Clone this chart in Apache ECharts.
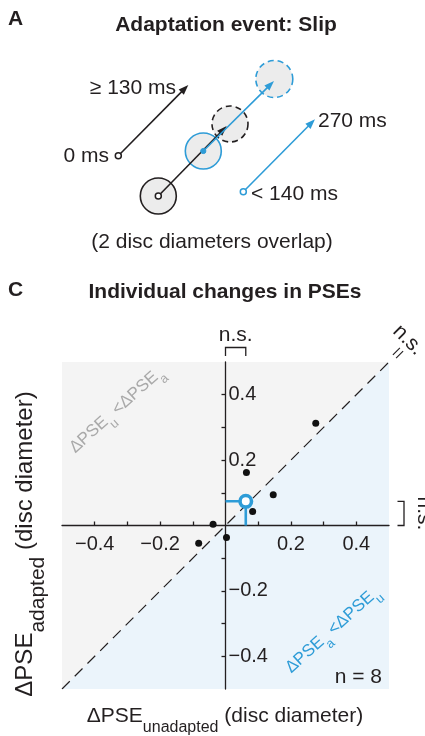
<!DOCTYPE html>
<html><head><meta charset="utf-8">
<script src="https://cdn.jsdelivr.net/npm/echarts@6/dist/echarts.min.js"></script>
<style>html,body{margin:0;padding:0;background:#fff}#c{width:425px;height:736px}</style>
</head><body><div id="c"></div><script>
// ---- data ----
const unadapted = [0.276, 0.064, 0.146, 0.083, -0.038, -0.082, 0.003];
const adapted   = [0.313, 0.162, 0.094, 0.043, 0.004, -0.054, -0.037];
const meanPSE = [0.062, 0.074];
const axisRange = [-0.5, 0.5];
const xTickValues = [-0.4, -0.3, -0.2, -0.1, 0.1, 0.2, 0.3, 0.4];
const xLabelValues = [-0.4, -0.2, 0.2, 0.4];
const yTickValues = [-0.4, -0.3, -0.2, -0.1, 0.1, 0.2, 0.3, 0.4];
const yLabelValues = [-0.4, -0.2, 0.2, 0.4];
const nText = 'n = 8';

const FONT = "'Liberation Sans', Arial, Helvetica, sans-serif";
const BLUE = '#2e9cd7';
const INK = '#231f20';
const GRAYTXT = '#a9a9a9';
const fmt = v => v < 0 ? '\u2212' + Math.abs(v) : String(v);

const ctx = document.createElement('canvas').getContext('2d');
function tw(t, size, weight) { ctx.font = (weight || 'normal') + ' ' + size + 'px ' + FONT; return ctx.measureText(t).width; }

function subText(parts, x, y, rotation, color, align) {
  let W = 0; parts.forEach(p => { p.w = tw(p.t, p.s); W += p.w; });
  let cx = align === 'center' ? -W / 2 : (align === 'right' ? -W : 0);
  const children = parts.map(p => {
    const el = { type: 'text', x: cx, y: p.dy || 0, style: { text: p.t, fontSize: p.s, fontFamily: FONT, fill: color, align: 'left', verticalAlign: 'middle' } };
    cx += p.w; return el;
  });
  return { type: 'group', x: x, y: y, rotation: rotation || 0, children: children };
}
function txt(t, x, y, size, opts) {
  opts = opts || {};
  return { type: 'text', x: x, y: y, rotation: opts.rotation || 0, z: 10,
    style: { text: t, fontSize: size, fontFamily: FONT, fontWeight: opts.bold ? 'bold' : 'normal', fill: opts.color || INK, align: opts.align || 'left', verticalAlign: 'middle' } };
}
function arrow(x1, y1, x2, y2, color) {
  const dx = x2 - x1, dy = y2 - y1, L = Math.hypot(dx, dy), ux = dx / L, uy = dy / L;
  const hl = 10, hw = 3.6;
  const bx = x2 - ux * hl, by = y2 - uy * hl;
  return [
    { type: 'line', shape: { x1: x1, y1: y1, x2: bx + ux * 1, y2: by + uy * 1 }, style: { stroke: color, lineWidth: 1.6 }, z: 5 },
    { type: 'polygon', shape: { points: [[x2, y2], [bx - uy * hw, by + ux * hw], [bx + uy * hw, by - ux * hw]] }, style: { fill: color }, z: 5 }
  ];
}
function circ(cx, cy, r, stroke, dash, fill, lw) {
  return { type: 'circle', shape: { cx: cx, cy: cy, r: r }, style: { fill: fill, stroke: stroke, lineWidth: lw || 1.6, lineDash: dash || null }, z: 4 };
}

const scatterData = unadapted.map((x, i) => [x, adapted[i]]);
const tri = (pts, color) => ({
  type: 'custom', z: -1, silent: true, clip: false, data: [[0, 0]],
  renderItem: (params, api) => ({ type: 'polygon', shape: { points: pts.map(p => api.coord(p)) }, style: { fill: color } })
});
const lo = axisRange[0], hi = axisRange[1];
const GW = 327, GH = 327;
// move axes onto the zero lines (fraction of the grid given by the axis range)
const xAxisOffset = -(0 - lo) / (hi - lo) * GH;
const yAxisOffset = -(0 - lo) / (hi - lo) * GW;

const chart = echarts.init(document.getElementById('c'), null, { renderer: 'canvas' });
chart.setOption({
  animation: false,
  grid: { left: 62, top: 362, width: GW, height: GH, containLabel: false },
  xAxis: {
    type: 'value', min: lo, max: hi, splitLine: { show: false }, position: 'bottom', offset: xAxisOffset,
    axisLine: { onZero: false, lineStyle: { color: INK, width: 1.3 } },
    axisTick: { inside: true, length: 4, customValues: xTickValues, lineStyle: { color: INK, width: 1.3 } },
    axisLabel: { customValues: xLabelValues, formatter: fmt, fontSize: 20, fontFamily: FONT, color: INK, margin: 9 }
  },
  yAxis: {
    type: 'value', min: lo, max: hi, splitLine: { show: false }, position: 'left', offset: yAxisOffset,
    axisLine: { onZero: false, lineStyle: { color: INK, width: 1.3 } },
    axisTick: { length: 4, customValues: yTickValues, lineStyle: { color: INK, width: 1.3 } },
    axisLabel: { inside: true, customValues: yLabelValues, formatter: fmt, fontSize: 20, fontFamily: FONT, color: INK, margin: 3, padding: [4, 0, 0, 0] }
  },
  series: [
    tri([[lo, lo], [lo, hi], [hi, hi]], '#f4f4f4'),
    tri([[lo, lo], [hi, lo], [hi, hi]], '#ebf4fb'),
    { type: 'line', data: [[lo, lo], [hi, hi]], symbol: 'none', silent: true, lineStyle: { type: [11, 7], color: INK, width: 1.2 } },
    { type: 'line', data: [[0, meanPSE[1]], meanPSE], symbol: 'none', silent: true, lineStyle: { color: BLUE, width: 2.6 } },
    { type: 'line', data: [meanPSE, [meanPSE[0], 0]], symbol: 'none', silent: true, lineStyle: { color: BLUE, width: 2.6 } },
    { type: 'scatter', data: scatterData, symbolSize: 7, itemStyle: { color: '#111', opacity: 1 }, z: 4 },
    { type: 'scatter', data: [meanPSE], symbolSize: 11.5, itemStyle: { color: '#fff', borderColor: BLUE, borderWidth: 3.6, opacity: 1 }, z: 5 }
  ]
});

// ---- annotations ----
const P = v => chart.convertToPixel({ gridIndex: 0 }, v);
const o = P([0, 0]), m = P(meanPSE), tr = P([hi, hi]);
const g = [];
// panel A
g.push(txt('A', 8, 19, 21, { bold: true }));
g.push(txt('Adaptation event: Slip', 226, 25, 21, { bold: true, align: 'center' }));
g.push(circ(158.3, 196, 18, INK, null, '#ececec'));
g.push(circ(203.3, 151, 18, BLUE, null, '#ececec'));
g.push(circ(230, 124, 18, INK, [6, 4], '#ececec'));
g.push(circ(274.3, 79, 18.5, BLUE, [6, 4], '#ececec'));
g.push(...arrow(118.3, 155.7, 188.3, 85, INK));
g.push(...arrow(158.3, 196, 226.7, 126, INK));
g.push(...arrow(203.3, 151, 274, 81, BLUE));
g.push(...arrow(243.3, 191.7, 315, 119.3, BLUE));
g.push(Object.assign(circ(118.3, 155.7, 3, INK, null, '#fff', 1.5), { z: 6 }));
g.push(Object.assign(circ(158.3, 196, 3, INK, null, '#fff', 1.5), { z: 6 }));
g.push(Object.assign(circ(203.3, 151, 2.6, BLUE, null, BLUE, 1), { z: 6 }));
g.push(Object.assign(circ(243.3, 191.7, 3, BLUE, null, '#fff', 1.5), { z: 6 }));
g.push(txt('0 ms', 109, 156, 21, { align: 'right' }));
g.push(txt('\u2265 130 ms', 176, 88, 21, { align: 'right' }));
g.push(txt('270 ms', 318, 121, 21));
g.push(txt('< 140 ms', 251, 194, 21));
g.push(txt('(2 disc diameters overlap)', 212, 242, 21, { align: 'center' }));
// panel C
g.push(txt('C', 8, 290, 21, { bold: true }));
g.push(txt('Individual changes in PSEs', 225, 292, 21, { bold: true, align: 'center' }));
// top bracket
g.push({ type: 'polyline', shape: { points: [[o[0], 356], [o[0], 347.5], [m[0], 347.5], [m[0], 356]] }, style: { stroke: INK, lineWidth: 1.3, fill: null } });
g.push(txt('n.s.', (o[0] + m[0]) / 2, 335, 21, { align: 'center' }));
// right bracket
g.push({ type: 'polyline', shape: { points: [[397.5, m[1]], [404, m[1]], [404, o[1]], [397.5, o[1]]] }, style: { stroke: INK, lineWidth: 1.3, fill: null } });
g.push(txt('n.s.', 424, (m[1] + o[1]) / 2, 21, { align: 'center', rotation: -Math.PI / 2 }));
// diagonal n.s.
const ex = tr[0] + 9, ey = tr[1] - 9;
[-1.6, 1.6].forEach(d => {
  g.push({ type: 'line', shape: { x1: ex - 3.5 + d, y1: ey + 3.5 + d, x2: ex + 3.5 + d, y2: ey - 3.5 + d }, style: { stroke: INK, lineWidth: 1.1 } });
});
g.push(txt('n.s.', 408, 340, 21, { align: 'center', rotation: -Math.PI / 4 }));
// region labels
const RA = 42 * Math.PI / 180;
g.push(subText([{ t: '\u0394PSE', s: 17 }, { t: 'u', s: 13, dy: 9 }, { t: ' <\u0394PSE', s: 17 }, { t: 'a', s: 13, dy: 9 }], 72, 450, RA, GRAYTXT, 'left'));
g.push(subText([{ t: '\u0394PSE', s: 17 }, { t: 'a', s: 13, dy: 9 }, { t: ' <\u0394PSE', s: 17 }, { t: 'u', s: 13, dy: 9 }], 288, 670, RA, BLUE, 'left'));
g.push(txt(nText, 382, 677, 21, { align: 'right' }));
// axis titles
g.push(subText([{ t: '\u0394PSE', s: 21 }, { t: 'unadapted', s: 16, dy: 12 }, { t: ' (disc diameter)', s: 21 }], 225, 716, 0, INK, 'center'));
g.push(subText([{ t: '\u0394PSE', s: 24 }, { t: 'adapted', s: 21, dy: 13 }, { t: ' (disc diameter)', s: 24 }], 25, 544, Math.PI / 2, INK, 'center'));

chart.setOption({ graphic: g.map(e => Object.assign({ z: 10 }, e)) });
</script></body></html>
